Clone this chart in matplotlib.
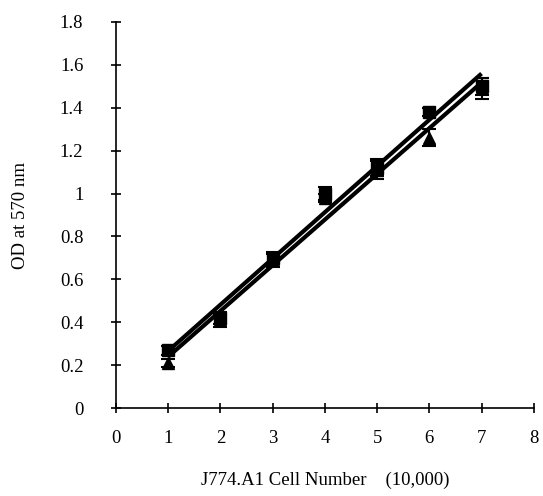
import numpy as np
import matplotlib
matplotlib.use("Agg")
import matplotlib.pyplot as plt

# Valores
cells = [1, 2, 3, 4, 5, 6, 7]
od_square = [0.27, 0.42, 0.70, 1.00, 1.12, 1.38, 1.50]
err_square = [0.02, 0.03, 0.03, 0.03, 0.04, 0.02, 0.04]
od_triangle = [0.21, 0.41, 0.69, 0.98, 1.11, 1.26, 1.49]
err_triangle = [0.02, 0.03, 0.03, 0.02, 0.04, 0.04, 0.05]

x_ticks = [0, 1, 2, 3, 4, 5, 6, 7, 8]
y_ticks = [0, 0.2, 0.4, 0.6, 0.8, 1, 1.2, 1.4, 1.6, 1.8]
y_tick_labels = ["0", "0.2", "0.4", "0.6", "0.8", "1", "1.2", "1.4", "1.6", "1.8"]

plt.rcParams["font.family"] = ["Liberation Serif", "DejaVu Serif"]

fig = plt.figure(figsize=(5.43, 4.96), dpi=100)
ax = fig.add_axes([0.2136, 0.177, 0.7694, 0.779])

x = np.array(cells, dtype=float)
for ys in (od_square, od_triangle):
    a, b = np.polyfit(x, ys, 1)
    ax.plot(x, a * x + b, color="black", lw=3, solid_capstyle="butt", zorder=2)

ax.errorbar(cells, od_square, yerr=err_square, fmt="s", color="black",
            ms=9, capsize=5, elinewidth=1.5, capthick=1.5, zorder=3)
ax.errorbar(cells, od_triangle, yerr=err_triangle, fmt="^", color="black",
            ms=9, capsize=5, elinewidth=1.5, capthick=1.5, zorder=3)

ax.set_xlim(0, 8)
ax.set_ylim(0, 1.8)
ax.set_xticks(x_ticks)
ax.set_yticks(y_ticks)
ax.set_yticklabels(y_tick_labels)
ax.spines["top"].set_visible(False)
ax.spines["right"].set_visible(False)
ax.spines["left"].set_linewidth(1.2)
ax.spines["bottom"].set_linewidth(1.2)
ax.tick_params(axis="both", direction="inout", length=7, width=1.2,
               labelsize=13.5, pad=12)
ax.tick_params(axis="y", pad=20)

ax.set_ylabel("OD at 570 nm", fontsize=13.5, labelpad=22)
ax.set_xlabel("J774.A1 Cell Number    (10,000)", fontsize=13.5, labelpad=18)

fig.savefig("out.png", dpi=100)
